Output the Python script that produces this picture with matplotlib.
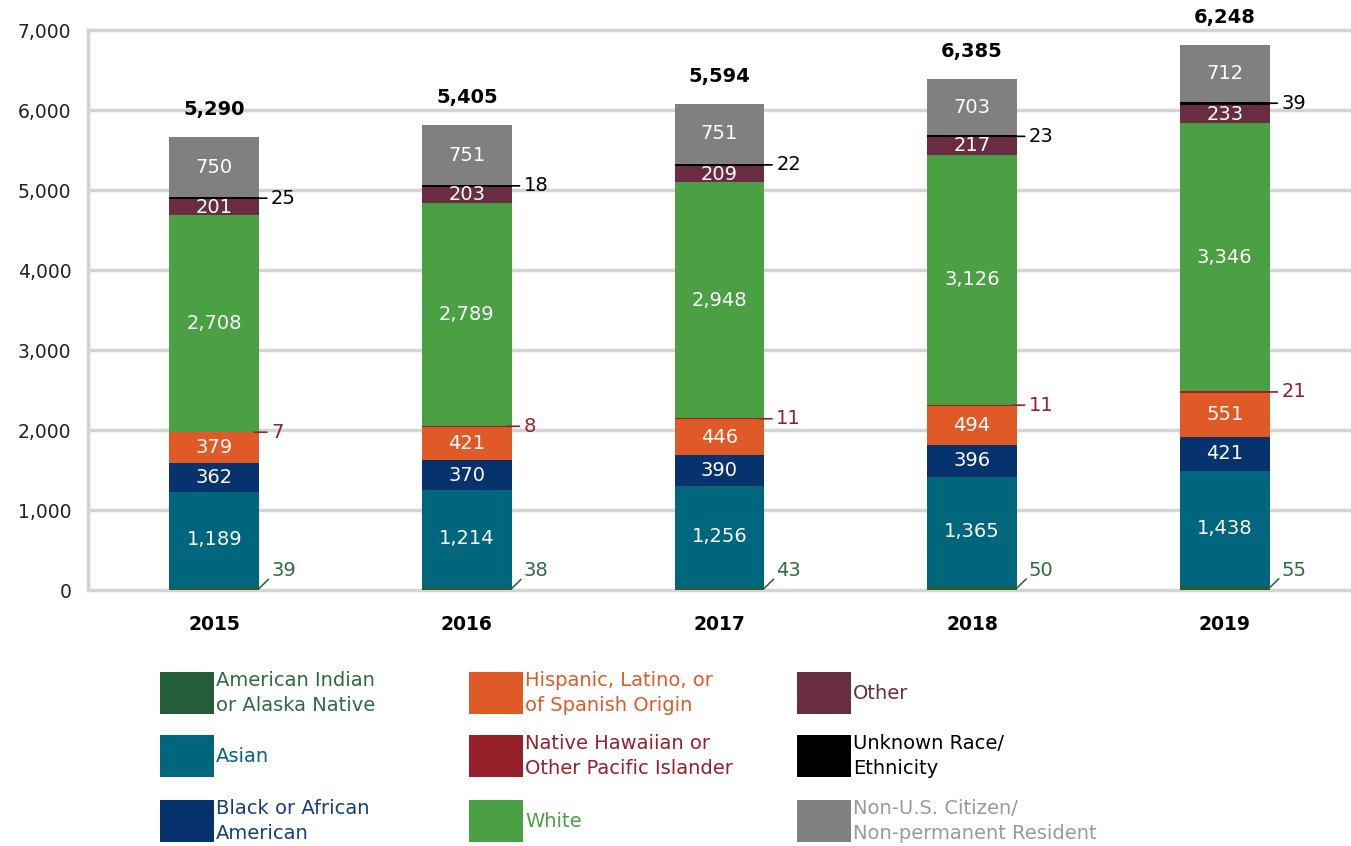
import matplotlib
matplotlib.use("Agg")
import matplotlib.pyplot as plt
from matplotlib.patches import Rectangle
import numpy as np

plt.rcParams['font.family'] = ['DejaVu Sans']

years = ['2015', '2016', '2017', '2018', '2019']
totals = ['5,290', '5,405', '5,594', '6,385', '6,248']

am_indian = [39, 38, 43, 50, 55]
asian = [1189, 1214, 1256, 1365, 1438]
black = [362, 370, 390, 396, 421]
hispanic = [379, 421, 446, 494, 551]
hawaiian = [7, 8, 11, 11, 21]
white = [2708, 2789, 2948, 3126, 3346]
other = [201, 203, 209, 217, 233]
unknown = [25, 18, 22, 23, 39]
non_us = [750, 751, 751, 703, 712]

series = [
    ('American Indian\nor Alaska Native', am_indian, '#245e38', '#2e6b43', 'diag'),
    ('Asian', asian, '#00667e', '#00667e', 'in'),
    ('Black or African\nAmerican', black, '#06336e', '#173f7a', 'in'),
    ('Hispanic, Latino, or\nof Spanish Origin', hispanic, '#e05a28', '#e05a28', 'in'),
    ('Native Hawaiian or\nOther Pacific Islander', hawaiian, '#97212b', '#97212b', 'side'),
    ('White', white, '#4aa043', '#4aa043', 'in'),
    ('Other', other, '#6a2c42', '#6a2c42', 'in'),
    ('Unknown Race/\nEthnicity', unknown, '#000000', '#000000', 'side'),
    ('Non-U.S. Citizen/\nNon-permanent Resident', non_us, '#808080', '#9a9a9a', 'in'),
]

W, H = 1351, 846
fig = plt.figure(figsize=(W / 100, H / 100), dpi=100)
ax = fig.add_axes([88 / W, (H - 590) / H, (1351 - 88) / W, (590 - 30) / H])

x = np.arange(len(years))
bw = 0.355
bottom = np.zeros(len(years))
for name, vals, col, tcol, mode in series:
    vals = np.array(vals, dtype=float)
    ax.bar(x, vals, bw, bottom=bottom, color=col, zorder=3, linewidth=0)
    for i, v in enumerate(vals):
        yc = bottom[i] + v / 2
        lbl = f'{int(v):,}'
        if mode == 'in':
            ax.text(x[i], yc, lbl, ha='center', va='center', color='white',
                    fontsize=14, zorder=4)
        elif mode == 'side':
            ax.annotate(lbl, xy=(x[i] + bw / 2 - 0.02, yc), xytext=(17, 0),
                        textcoords='offset pixels', ha='left', va='center',
                        color=tcol, fontsize=14, zorder=4,
                        arrowprops=dict(arrowstyle='-', color=tcol, lw=1.2,
                                        shrinkA=1, shrinkB=0, relpos=(0, 0.5)))
        else:
            ax.annotate(lbl, xy=(x[i] + bw / 2, yc), xytext=(12, 8),
                        textcoords='offset pixels', ha='left', va='bottom',
                        color=tcol, fontsize=14, zorder=4,
                        arrowprops=dict(arrowstyle='-', color=tcol, lw=1.2,
                                        shrinkA=0, shrinkB=0, relpos=(0, 0.2)))
    bottom += vals

for i, t in enumerate(totals):
    ax.annotate(t, xy=(x[i], bottom[i]), xytext=(0, 18), textcoords='offset pixels',
                ha='center', va='bottom', fontsize=14, fontweight='bold', color='black')

ax.set_xlim(-0.5, len(years) - 0.5)
ax.set_ylim(0, 7000)
ax.set_yticks(np.arange(0, 7001, 1000))
ax.set_yticklabels([f'{v:,}' for v in range(0, 7001, 1000)])
ax.set_xticks(x)
ax.set_xticklabels(years, fontweight='bold')
ax.tick_params(axis='y', length=0, pad=12, labelsize=13.5, colors='#222222')
ax.tick_params(axis='x', length=0, pad=18, labelsize=13.5)
ax.grid(axis='y', color='#d4d4d4', lw=2.5, zorder=0)
for gl in ax.get_ygridlines():
    gl.set_clip_on(False)
ax.set_axisbelow(True)
for s in ['top', 'right', 'bottom']:
    ax.spines[s].set_visible(False)
ax.spines['left'].set_color('#d4d4d4')
ax.spines['left'].set_linewidth(2.5)

# legend, 3 columns x 3 rows
col_x = [160, 469, 797]
row_y = [672, 735, 800]
for k, (name, vals, col, tcol, mode) in enumerate(series):
    c, r = divmod(k, 3)
    x0, y0 = col_x[c], row_y[r]
    fig.add_artist(Rectangle((x0 / W, 1 - (y0 + 42) / H), 54 / W, 42 / H,
                             transform=fig.transFigure, color=col, lw=0))
    fig.text((x0 + 56) / W, 1 - (y0 + 21) / H, name, ha='left', va='center',
             color=tcol, fontsize=14, linespacing=1.45)

fig.savefig('out.png', dpi=100)
